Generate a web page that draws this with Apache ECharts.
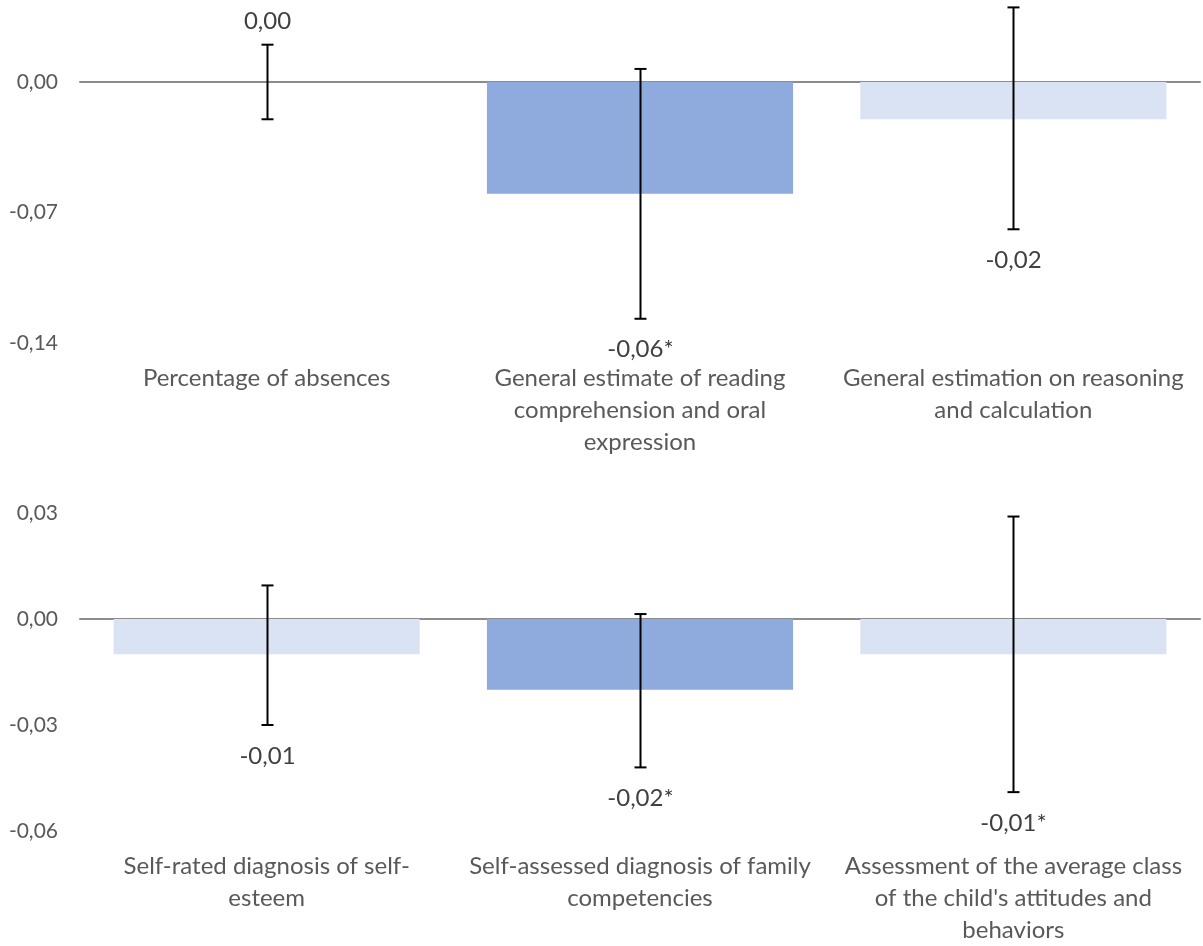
<!DOCTYPE html>
<html>
<head>
<meta charset="utf-8">
<script src="https://cdn.jsdelivr.net/npm/echarts@6/dist/echarts.min.js"></script>
<style>
  html, body { margin: 0; padding: 0; background: #fff; }
  #chart { width: 1203px; height: 946px; }
</style>
</head>
<body>
<div id="chart"></div>
<script>
// Upper panel: school outcomes
const topCategories = [
  'Percentage of absences',
  'General estimate of reading\ncomprehension and oral\nexpression',
  'General estimation on reasoning\nand calculation'
];
const topValues = [0.00, -0.06, -0.02];
const topLow = [-0.02, -0.127, -0.079];
const topHigh = [0.02, 0.007, 0.04];
const topSignificant = [false, true, false];
const topHighlight = [false, true, false];
const topTicks = { min: -0.14, max: 0.04, interval: 0.07 };

// Lower panel: self-assessment and behaviour
const bottomCategories = [
  'Self-rated diagnosis of self-\nesteem',
  'Self-assessed diagnosis of family\ncompetencies',
  "Assessment of the average class\nof the child's attitudes and\nbehaviors"
];
const bottomValues = [-0.01, -0.02, -0.01];
const bottomLow = [-0.03, -0.042, -0.049];
const bottomHigh = [0.0095, 0.0014, 0.029];
const bottomSignificant = [false, true, true];
const bottomHighlight = [false, true, false];
const bottomTicks = { min: -0.06, max: 0.03, interval: 0.03 };

const DARK = '#8FAADC';
const LIGHT = '#DAE3F3';
const FONT = 'Lato, "Open Sans", sans-serif';

function fmt(v) {
  if (Math.abs(v) < 1e-9) v = 0;
  return v.toFixed(2).replace('.', ',');
}

function errorRender(params, api) {
  const idx = api.value(0);
  const val = api.value(1);
  const lo = api.coord([idx, api.value(2)]);
  const hi = api.coord([idx, api.value(3)]);
  const sig = api.value(4) === 1;
  const x = Math.round(lo[0]) + 0.5;
  const cap = 6;
  const stroke = { stroke: '#000', lineWidth: 2 };
  const text = fmt(val) + (sig ? '*' : '');
  const above = val >= 0;
  return {
    type: 'group',
    children: [
      { type: 'line', shape: { x1: x, y1: hi[1], x2: x, y2: lo[1] }, style: stroke },
      { type: 'line', shape: { x1: x - cap, y1: hi[1], x2: x + cap, y2: hi[1] }, style: stroke },
      { type: 'line', shape: { x1: x - cap, y1: lo[1], x2: x + cap, y2: lo[1] }, style: stroke },
      {
        type: 'text',
        style: {
          text: text,
          x: x,
          y: above ? hi[1] - 23 : lo[1] + 31,
          align: 'center',
          verticalAlign: 'middle',
          fill: '#404040',
          font: '24px ' + FONT
        }
      }
    ]
  };
}

function barData(values, highlight) {
  return values.map((v, i) => ({ value: v, itemStyle: { color: highlight[i] ? DARK : LIGHT } }));
}

function errData(values, low, high, sig) {
  return values.map((v, i) => [i, v, low[i], high[i], sig[i] ? 1 : 0]);
}

function xAxes(grid, cats) {
  return [
    {
      gridIndex: grid, type: 'category', data: cats,
      axisLine: { onZero: true, lineStyle: { color: '#8c8c8c', width: 2 } },
      axisTick: { show: false }, axisLabel: { show: false }
    },
    {
      gridIndex: grid, type: 'category', data: cats, position: 'bottom',
      axisLine: { show: false, onZero: false }, axisTick: { show: false },
      axisLabel: {
        color: '#595959', fontFamily: FONT, fontSize: 24, lineHeight: 32,
        margin: 19, interval: 0, align: 'center', verticalAlign: 'top'
      }
    }
  ];
}

function yAxis(grid, t) {
  return {
    gridIndex: grid, type: 'value', min: t.min, max: t.max, interval: t.interval,
    axisLine: { show: false }, axisTick: { show: false }, splitLine: { show: false },
    axisLabel: {
      showMaxLabel: Math.abs(t.max / t.interval - Math.round(t.max / t.interval)) < 1e-6,
      color: '#595959', fontFamily: FONT, fontSize: 21, margin: 22,
      formatter: v => fmt(v)
    }
  };
}

const chart = echarts.init(document.getElementById('chart'), null, { renderer: 'canvas' });
chart.setOption({
  animation: false,
  backgroundColor: '#fff',
  grid: [
    { left: 80, right: 3, top: 7.4, height: 335.6 },
    { left: 80, right: 3, top: 513, height: 319 }
  ],
  xAxis: [...xAxes(0, topCategories), ...xAxes(1, bottomCategories)],
  yAxis: [yAxis(0, topTicks), yAxis(1, bottomTicks)],
  series: [
    { type: 'bar', xAxisIndex: 0, yAxisIndex: 0, barWidth: '82%', data: barData(topValues, topHighlight), z: 1 },
    { type: 'custom', xAxisIndex: 0, yAxisIndex: 0, renderItem: errorRender, data: errData(topValues, topLow, topHigh, topSignificant), z: 5 },
    { type: 'bar', xAxisIndex: 2, yAxisIndex: 1, barWidth: '82%', data: barData(bottomValues, bottomHighlight), z: 1 },
    { type: 'custom', xAxisIndex: 2, yAxisIndex: 1, renderItem: errorRender, data: errData(bottomValues, bottomLow, bottomHigh, bottomSignificant), z: 5 }
  ]
});
</script>
</body>
</html>
